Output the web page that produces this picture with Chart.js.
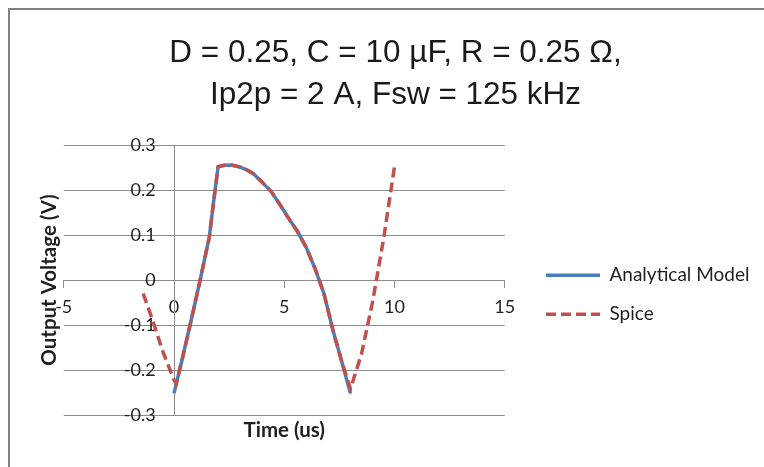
<!DOCTYPE html>
<html>
<head>
<meta charset="utf-8">
<title>Output voltage: analytical model vs Spice</title>
<script src="https://cdn.jsdelivr.net/npm/chart.js@4/dist/chart.umd.min.js"></script>
<style>
  html, body { margin: 0; padding: 0; background: #fff; width: 764px; height: 467px; overflow: hidden; }
  #frame { position: absolute; left: 8px; top: 8px; width: 820px; height: 520px; border-left: 2px solid #808080; border-top: 2px solid #808080; }
  #chart { position: absolute; left: 0; top: 0; }
</style>
</head>
<body>
<div id="frame"></div>
<canvas id="chart" width="800" height="580"></canvas>
<script>
// chart text
const titleLines = ['D = 0.25, C = 10 \u00b5F, R = 0.25 \u03a9,', 'Ip2p = 2 A, Fsw = 125 kHz'];
const seriesNames = ['Analytical Model', 'Spice'];
const xAxisTitle = 'Time (us)';
const yAxisTitle = 'Output Voltage (V)';

// tick values
const xTicks = [-5, 0, 5, 10, 15];
const yTicks = [-0.3, -0.2, -0.1, 0, 0.1, 0.2, 0.3];

// analytical model, time in us / voltage in V
const analyticalTime = [0, 0.4, 0.8, 1.2, 1.6, 1.8, 2.0, 2.3, 2.6, 3.0, 3.3, 3.6, 4.0, 4.4, 4.8, 5.2, 5.6, 6.0, 6.4, 6.8, 7.2, 7.6, 8.0];
const analyticalVolt = [-0.252, -0.17, -0.085, 0.003, 0.095, 0.175, 0.252, 0.255, 0.2555, 0.251, 0.245, 0.236, 0.217, 0.197, 0.168, 0.137, 0.108, 0.072, 0.025, -0.03, -0.11, -0.18, -0.252];

// spice simulation
const spiceTime = [-1.4, -1.0, -0.5, 0.0, 0.1, 0.4, 0.8, 1.2, 1.6, 1.8, 2.0, 2.3, 2.6, 3.0, 3.3, 3.6, 4.0, 4.4, 4.8, 5.2, 5.6, 6.0, 6.4, 6.8, 7.2, 7.6, 8.0, 8.5, 9.0, 9.5, 10.0];
const spiceVolt = [-0.03, -0.085, -0.16, -0.222, -0.23, -0.17, -0.085, 0.003, 0.095, 0.175, 0.252, 0.255, 0.2555, 0.251, 0.245, 0.236, 0.217, 0.197, 0.168, 0.137, 0.108, 0.072, 0.025, -0.03, -0.11, -0.18, -0.242, -0.165, -0.05, 0.09, 0.252];

const GRID = '#8c8c8c';
const TEXT = '#1f1f1f';
const BLUE = '#4a7ebb';
const RED = '#c0504d';

const pts = (xs, ys) => xs.map((x, i) => ({ x, y: ys[i] }));
const fixedTicks = vals => scale => { scale.ticks = vals.map(v => ({ value: v })); };

// blank axes that only carry the axis titles / spacing
const blankAxis = (position, extra) => Object.assign({
  type: 'linear', position, min: 0, max: 1,
  ticks: { display: false }, grid: { display: false, drawTicks: false }, border: { display: false }
}, extra);

// point-style legend items take the point's style, so put the line dash back
const legendLabels = chart =>
  Chart.defaults.plugins.legend.labels.generateLabels(chart).map(item =>
    Object.assign(item, { lineDash: chart.data.datasets[item.datasetIndex].borderDash || [] }));

new Chart(document.getElementById('chart'), {
  type: 'scatter',
  data: {
    datasets: [
      { label: seriesNames[0], data: pts(analyticalTime, analyticalVolt), showLine: true, order: 1,
        borderColor: BLUE, backgroundColor: BLUE, borderWidth: 3.5, pointRadius: 0, borderJoinStyle: 'round', tension: 0 },
      { label: seriesNames[1], data: pts(spiceTime, spiceVolt), showLine: true, order: 0,
        borderColor: RED, backgroundColor: RED, borderWidth: 3.5, borderDash: [10, 5], pointRadius: 0, tension: 0 }
    ]
  },
  options: {
    responsive: false,
    animation: false,
    devicePixelRatio: 1,
    layout: { padding: { left: 35, right: 44, top: 10, bottom: 0.4 } },
    scales: {
      x: {
        type: 'linear', position: { y: 0 }, min: -5, max: 15,
        afterBuildTicks: fixedTicks(xTicks),
        grid: { drawOnChartArea: false, drawTicks: true, tickLength: 7, color: GRID },
        border: { color: GRID, width: 1 },
        ticks: { padding: 9.2, color: TEXT, font: { family: 'Lato', size: 18 } }
      },
      y: {
        type: 'linear', position: { x: 0 }, min: -0.3, max: 0.3,
        afterBuildTicks: fixedTicks(yTicks),
        grid: { color: GRID, drawTicks: false },
        border: { color: GRID, width: 1 },
        ticks: { color: TEXT, font: { family: 'Lato', size: 18 },
          callback: v => (Math.round(v * 10) / 10) + '    ' }
      },
      xTitle: blankAxis('bottom', {
        title: { display: true, text: xAxisTitle, color: TEXT, padding: { top: 2.7, bottom: 137.3 },
          font: { family: 'Lato', size: 20.5, weight: 'bold', lineHeight: 1.2 } }
      }),
      yTitle: blankAxis('left', {
        title: { display: true, text: yAxisTitle, color: TEXT, padding: { top: 1.7, bottom: 2.45 },
          font: { family: 'Lato', size: 20.5, weight: 'bold', lineHeight: 1.2 } }
      }),
      gap: blankAxis('right', { afterFit: s => { s.width = 21.25; } })
    },
    plugins: {
      title: {
        display: true, text: titleLines, color: '#1a1a1a',
        font: { family: 'Liberation Sans', size: 31.5, weight: 'normal', lineHeight: 1.343 },
        padding: { top: 22, bottom: 28.4 }
      },
      legend: {
        position: 'right',
        maxWidth: 230,
        labels: {
          usePointStyle: true, pointStyle: 'line', pointStyleWidth: 54,
          padding: 20, color: TEXT, font: { family: 'Lato', size: 19 },
          generateLabels: legendLabels,
          sort: (a, b) => a.datasetIndex - b.datasetIndex
        }
      },
      tooltip: { enabled: false }
    }
  }
});
</script>
</body>
</html>
